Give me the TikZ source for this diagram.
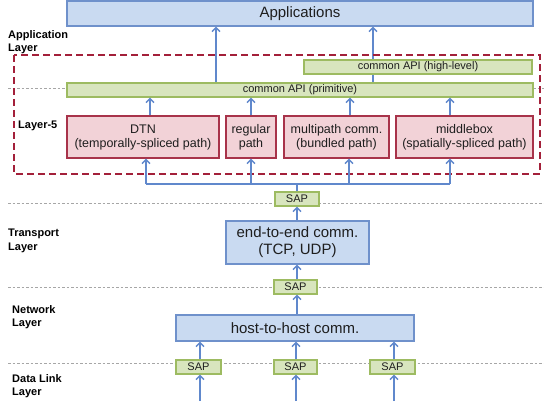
\documentclass[tikz,border=0pt]{standalone}
\usepackage{fontspec}
\setmainfont{Liberation Sans}
\usetikzlibrary{arrows.meta}
\definecolor{bfill}{HTML}{C9DAF1}
\definecolor{bdraw}{HTML}{6F91CB}
\definecolor{gfill}{HTML}{D8E5BE}
\definecolor{gdraw}{HTML}{9DBB61}
\definecolor{rfill}{HTML}{F2D2D7}
\definecolor{rdraw}{HTML}{A8334A}
\definecolor{rdash}{HTML}{A3203A}
\definecolor{arrc}{HTML}{6088CC}
\definecolor{txt}{HTML}{1E1E1E}
\pgfdeclarelayer{bg}
\pgfsetlayers{bg,main}
\tikzset{
  box/.style={draw, line width=1.1pt, inner sep=0pt, text=txt, align=center},
  bluebox/.style={box, draw=bdraw, fill=bfill, font=\fontsize{15}{17}\selectfont},
  greenbox/.style={box, draw=gdraw, fill=gfill, font=\fontsize{11}{13}\selectfont},
  redbox/.style={box, draw=rdraw, fill=rfill, font=\fontsize{12.5}{14}\selectfont},
  lbl/.style={anchor=west, align=left, inner sep=0pt, font=\bfseries\fontsize{11}{13.5}\selectfont, text=black},
  arr/.style={draw=arrc, line width=1.4pt, -{Straight Barb[length=4pt,width=8pt,line width=1.4pt]}},
  bus/.style={draw=arrc, line width=1.4pt},
  layerline/.style={draw=gray!70, line width=0.9pt, dash pattern=on 2.5pt off 2pt},
  l5box/.style={draw=rdash, line width=1.8pt, dash pattern=on 7pt off 4pt}
}
\begin{document}
\begin{tikzpicture}[x=1pt,y=-1pt]
\useasboundingbox (0,0) rectangle (544,404);

% layer separator lines
\draw[layerline] (8,88) -- (67,88);
\draw[layerline] (533,88) -- (544,88);
\draw[layerline] (8,203) -- (544,203);
\draw[layerline] (8,287) -- (544,287);
\draw[layerline] (8,363) -- (544,363);

% Layer-5 dashed box
\draw[l5box] (14,55) rectangle (540,174);

% layer labels
\node[lbl] (lapp) at (8,42) {Application\\Layer};
\node[lbl] (l5) at (18,126) {Layer-5};
\node[lbl] (ltr) at (8,241) {Transport\\Layer};
\node[lbl] (lnet) at (12,317) {Network\\Layer};
\node[lbl] (ldl) at (12,386) {Data Link\\Layer};

% nodes
\node[bluebox, minimum width=466pt, minimum height=25pt] (app) at (300,13.5) {Applications};
\node[greenbox, minimum width=228pt, minimum height=14pt] (high) at (418,67) {common API (high-level)};
\node[greenbox, minimum width=466pt, minimum height=14pt] (prim) at (300,90) {common API (primitive)};

\node[redbox, minimum width=152pt, minimum height=42pt] (dtn) at (143,137) {DTN\\(temporally-spliced path)};
\node[redbox, minimum width=50pt, minimum height=42pt] (reg) at (251,137) {regular\\path};
\node[redbox, minimum width=105pt, minimum height=42pt] (mp) at (336.5,137) {multipath comm.\\(bundled path)};
\node[redbox, minimum width=137pt, minimum height=42pt] (mb) at (464.5,137) {middlebox\\(spatially-spliced path)};

\node[greenbox, minimum width=44pt, minimum height=14pt] (sap1) at (297,199) {SAP};
\node[bluebox, minimum width=143pt, minimum height=43pt, font=\fontsize{15}{17}\selectfont] (e2e) at (297.5,242.5) {end-to-end comm.\\(TCP, UDP)};
\node[greenbox, minimum width=43pt, minimum height=14pt] (sap2) at (295.5,287) {SAP};
\node[bluebox, minimum width=238pt, minimum height=26pt] (host) at (295,328) {host-to-host comm.};
\node[greenbox, minimum width=45pt, minimum height=14pt] (sapa) at (198.5,367) {SAP};
\node[greenbox, minimum width=43pt, minimum height=14pt] (sapb) at (295.5,367) {SAP};
\node[greenbox, minimum width=45pt, minimum height=14pt] (sapc) at (392.5,367) {SAP};

% coordinates
\coordinate (busL) at (146,184);
\coordinate (busR) at (450,184);
\coordinate (busM) at (297,184);
\coordinate (inA) at (200,401);
\coordinate (inB) at (296,401);
\coordinate (inC) at (394,401);

\begin{pgfonlayer}{bg}
% to applications
\draw[arr] (prim.north -| 216,0) -- (app.south -| 216,0);
\draw[arr] (prim.north -| 373,0) -- (app.south -| 373,0);
\end{pgfonlayer}

% red boxes to primitive API
\draw[arr] (dtn.north -| 150,0) -- (prim.south -| 150,0);
\draw[arr] (reg.north) -- (prim.south -| reg.north);
\draw[arr] (mp.north -| 350,0) -- (prim.south -| 350,0);
\draw[arr] (mb.north -| 450,0) -- (prim.south -| 450,0);

% bus
\draw[bus] (busL) -- (busR);
\draw[bus] (sap1.north -| busM) -- (busM);
\draw[arr] (busL) -- (dtn.south -| busL);
\draw[arr] (busL -| reg.south) -- (reg.south);
\draw[arr] (busL -| 349,0) -- (mp.south -| 349,0);
\draw[arr] (busR) -- (mb.south -| busR);

% transport stack
\draw[arr] (e2e.north -| busM) -- (sap1.south -| busM);
\draw[arr] (sap2.north -| busM) -- (e2e.south -| busM);
\draw[arr] (host.north -| busM) -- (sap2.south -| busM);

% data link
\draw[arr] (sapa.north -| inA) -- (host.south -| inA);
\draw[arr] (sapb.north -| inB) -- (host.south -| inB);
\draw[arr] (sapc.north -| inC) -- (host.south -| inC);
\draw[arr] (inA) -- (sapa.south -| inA);
\draw[arr] (inB) -- (sapb.south -| inB);
\draw[arr] (inC) -- (sapc.south -| inC);
\end{tikzpicture}
\end{document}
